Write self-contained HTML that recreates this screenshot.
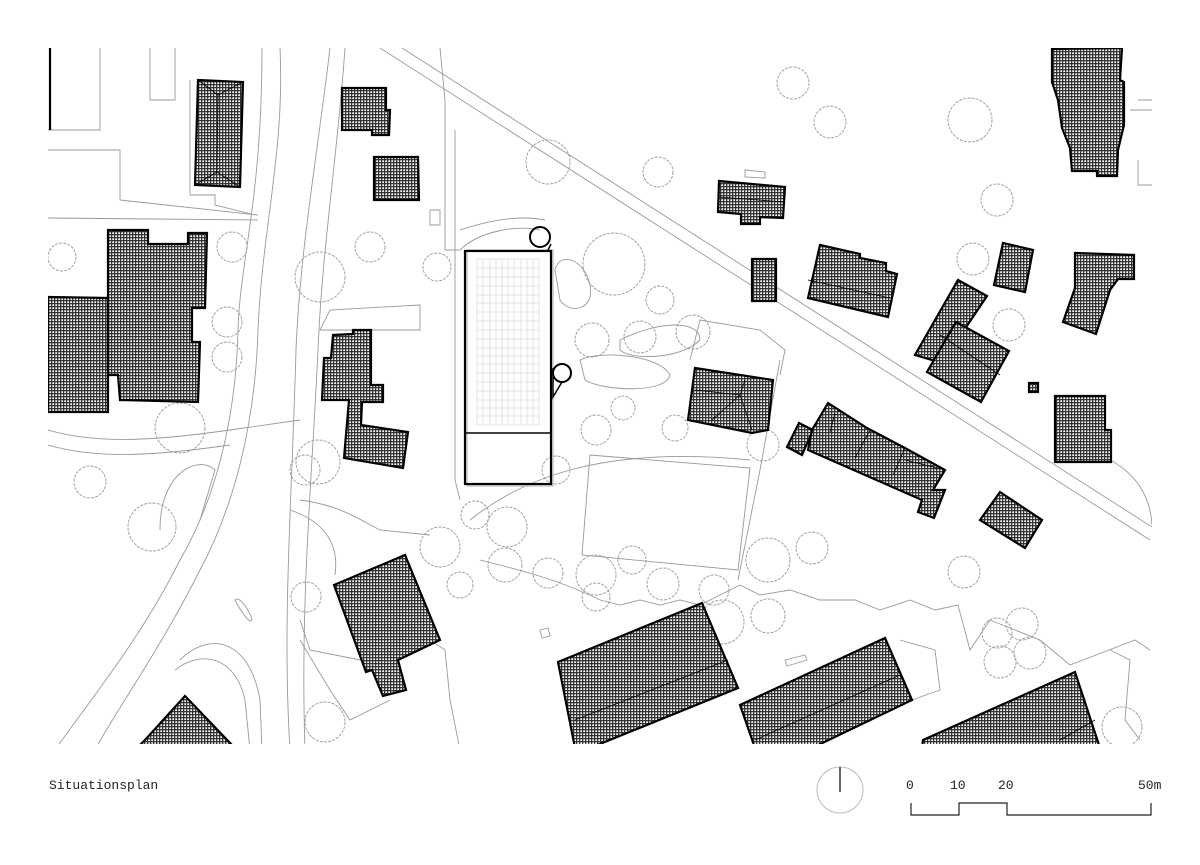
<!DOCTYPE html>
<html><head><meta charset="utf-8"><style>
html,body{margin:0;padding:0;background:#fff;}
svg{display:block}
text{font-family:"Liberation Mono",monospace;font-size:13px;fill:#222}
</style></head><body>
<svg width="1200" height="865" viewBox="0 0 1200 865" xmlns="http://www.w3.org/2000/svg">
<defs>
<pattern id="h" width="3" height="3" patternUnits="userSpaceOnUse">
<rect width="3" height="3" fill="#fff"/>
<rect x="0" y="0" width="3" height="1.3" fill="#333"/>
<rect x="0" y="0" width="1.3" height="3" fill="#333"/>
</pattern>
<clipPath id="c"><rect x="48" y="48" width="1104" height="696"/></clipPath>
</defs>
<g clip-path="url(#c)">
<g fill="none" stroke="#999" stroke-width="0.9">
<path d="M262,48 C262,200 240,260 238,330 C236,420 215,500 180,560 C140,640 90,700 55,750"/>
<path d="M280,48 C285,150 262,230 258,330 C255,430 232,510 200,570 C160,650 110,720 95,750"/>
<path d="M330,48 C318,150 300,250 296,350 C292,500 282,620 290,750"/>
<path d="M345,48 C338,150 322,250 318,350 C312,480 300,600 305,750"/>
<path d="M380,48 L1150,540"/>
<path d="M402,48 L1152,527"/>
<path d="M48,430 C100,445 160,440 230,430 L300,420"/>
<path d="M48,445 C100,460 160,455 230,445"/>
<path d="M160,530 C160,470 200,455 215,470 L200,520"/>
<path d="M48,130 L100,130 L100,48 M48,150 L120,150 L120,200 L258,215 M150,48 L150,100 L175,100 L175,48 M190,80 L190,195 L215,195 L215,205 L255,215"/>
<path d="M48,218 L258,220 M108,230 L108,300"/>
<path d="M320,330 L420,330 L420,305 L330,310 Z"/>
<path d="M430,210 L440,210 L440,225 L430,225 Z"/>
<path d="M440,48 L445,100 L445,250 L460,250 M455,130 L455,480 L460,500"/>
<path d="M460,250 C480,230 520,225 540,230 M460,230 C490,220 520,215 545,220"/>
<path d="M555,270 C560,250 585,260 590,285 C595,310 570,315 560,300 Z"/>
<path d="M580,360 C600,350 660,355 670,375 C665,395 600,390 585,380 Z"/>
<path d="M590,455 L750,468 L738,570 L582,555 Z"/>
<path d="M620,340 C660,320 700,320 700,340 C680,360 630,360 620,350 Z"/>
<path d="M470,520 C520,480 600,445 750,460 M780,360 L760,470 L738,580"/>
<path d="M480,560 C520,570 560,580 600,600 L620,605 L640,600 L660,605 L680,600 L700,605 L740,585 L760,595 L790,590 L820,600 L855,600 L880,610 L910,600 L935,610 L958,605 L970,650 L990,620 L1040,640 L1070,665 L1135,640 L1150,650"/>
<path d="M290,510 C320,520 340,540 335,575 M300,500 C340,505 360,520 380,530 L430,535"/>
<path d="M180,660 C210,630 250,640 260,700 L262,750 M175,670 C200,650 235,655 245,700 L250,750"/>
<path d="M235,600 C240,595 250,612 252,620 C250,625 240,610 235,600 Z"/>
<path d="M300,640 L330,690 L350,720 L390,700 M300,620 L310,650 L360,660 L430,640 L445,650 L450,700 L460,750"/>
<path d="M1110,650 L1130,660 L1125,720 L1140,740 M1138,100 L1152,100 M1138,160 L1138,185 L1152,185 M1130,110 L1152,110"/>
<path d="M690,360 L700,320 L760,330 L785,350 L780,375 M540,630 L548,628 L550,636 L542,638 Z M785,660 L805,655 L807,660 L787,666 Z"/>
<path d="M900,640 L935,650 L940,690 L912,700 M745,170 L765,172 L765,178 L745,177 Z"/>
<path d="M1100,455 C1135,470 1150,495 1152,525"/>
</g>
<g fill="none" stroke="#999" stroke-width="0.9" stroke-dasharray="3 1.2">
<circle cx="62" cy="257" r="14"/><circle cx="232" cy="247" r="15"/><circle cx="227" cy="322" r="15"/><circle cx="227" cy="357" r="15"/>
<circle cx="180" cy="428" r="25"/><circle cx="90" cy="482" r="16"/><circle cx="152" cy="527" r="24"/><circle cx="320" cy="277" r="25"/>
<circle cx="370" cy="247" r="15"/><circle cx="437" cy="267" r="14"/><circle cx="318" cy="462" r="22"/><circle cx="306" cy="597" r="15"/>
<circle cx="325" cy="722" r="20"/><circle cx="475" cy="515" r="14"/><circle cx="440" cy="547" r="20"/><circle cx="548" cy="162" r="22"/>
<circle cx="658" cy="172" r="15"/><circle cx="793" cy="83" r="16"/><circle cx="830" cy="122" r="16"/><circle cx="970" cy="120" r="22"/>
<circle cx="997" cy="200" r="16"/><circle cx="973" cy="259" r="16"/><circle cx="1009" cy="325" r="16"/><circle cx="614" cy="264" r="31"/>
<circle cx="592" cy="340" r="17"/><circle cx="640" cy="337" r="16"/><circle cx="693" cy="332" r="17"/><circle cx="660" cy="300" r="14"/>
<circle cx="596" cy="430" r="15"/><circle cx="623" cy="408" r="12"/><circle cx="675" cy="428" r="13"/><circle cx="763" cy="445" r="16"/>
<circle cx="556" cy="470" r="14"/><circle cx="507" cy="527" r="20"/><circle cx="505" cy="565" r="17"/><circle cx="548" cy="573" r="15"/>
<circle cx="596" cy="575" r="20"/><circle cx="632" cy="560" r="14"/><circle cx="596" cy="597" r="14"/><circle cx="663" cy="584" r="16"/>
<circle cx="714" cy="590" r="15"/><circle cx="722" cy="622" r="22"/><circle cx="768" cy="616" r="17"/><circle cx="768" cy="560" r="22"/>
<circle cx="812" cy="548" r="16"/><circle cx="964" cy="572" r="16"/><circle cx="997" cy="633" r="15"/><circle cx="1022" cy="624" r="16"/>
<circle cx="1030" cy="653" r="16"/><circle cx="1000" cy="662" r="16"/><circle cx="1122" cy="727" r="20"/><circle cx="460" cy="585" r="13"/>
<circle cx="305" cy="470" r="15"/>
</g>
<g fill="url(#h)" stroke="#000" stroke-width="2.2" stroke-linejoin="miter">
<path d="M50,48 L50,130" fill="none"/>
<polygon points="198,80 243,82 240,187 195,185"/>
<polygon points="108,230 148,230 148,244 188,244 188,233 207,233 205,308 192,308 192,342 200,342 198,402 120,400 118,375 108,375"/>
<polygon points="48,297 108,298 108,412 48,412"/>
<polygon points="342,88 386,88 386,110 390,110 389,135 372,135 372,130 342,130"/>
<polygon points="374,157 418,157 419,200 374,200"/>
<polygon points="333,335 353,334 353,330 371,330 371,385 383,385 383,402 362,402 361,425 408,432 403,468 344,458 349,400 322,400 324,358 331,358"/>
<polygon points="334,585 405,555 440,640 398,660 406,690 383,696 372,670 366,672"/>
<polygon points="145,740 185,696 232,745 140,745"/>
<polygon points="1052,49 1122,48 1120,80 1124,82 1124,125 1118,150 1117,176 1097,176 1097,171 1072,171 1070,148 1062,128 1058,100 1052,82"/>
<polygon points="719,181 785,187 783,218 760,217 760,224 741,224 741,214 718,212"/>
<polygon points="752,259 776,259 776,301 752,301"/>
<polygon points="820,245 860,254 860,258 886,263 886,271 897,274 888,317 808,298"/>
<polygon points="1003,243 1033,250 1025,292 994,285"/>
<polygon points="1075,253 1134,255 1134,279 1118,279 1110,290 1096,334 1063,322 1075,288"/>
<polygon points="958,280 987,296 942,363 915,355"/>
<polygon points="956,322 1009,351 981,402 927,372"/>
<polygon points="1029,383 1038,383 1038,392 1029,392"/>
<polygon points="1055,396 1105,396 1105,430 1111,430 1111,462 1055,462"/>
<polygon points="695,368 773,380 768,430 752,433 688,420"/>
<polygon points="799,423 813,430 802,455 787,447"/>
<polygon points="828,403 867,428 905,448 945,470 933,490 945,490 934,518 918,512 922,500 808,450 812,430"/>
<polygon points="1000,492 1042,520 1025,548 980,520"/>
<polygon points="558,662 702,603 738,688 590,748 575,748"/>
<polygon points="740,705 885,638 912,700 812,748 755,748"/>
<polygon points="923,740 1075,672 1100,748 922,748"/>
</g>
<g fill="none" stroke="#000" stroke-width="0.8">
<path d="M198,80 L218,95 L243,82 M218,95 L217,172 L195,185 M217,172 L240,187"/>
<path d="M719,197 L784,202 M808,280 L890,298 M940,335 L1000,375 M375,178 L418,178"/>
<path d="M575,720 L728,660 M755,740 L900,675 M1060,740 L1095,720 M835,413 L830,432 M870,430 L855,458 M905,448 L893,475 M945,470 L905,460"/>
<path d="M695,390 L740,395 L745,380 M740,395 L712,420 M740,395 L752,430"/>
</g>
<g fill="none">
<rect x="467" y="250" width="86" height="236" stroke="#aaa" stroke-width="1"/>
<rect x="465" y="251" width="86" height="233" stroke="#000" stroke-width="2.2"/>
<line x1="465" y1="433" x2="551" y2="433" stroke="#000" stroke-width="1.5"/>
<g stroke="#ddd" stroke-width="0.8">
<rect x="477" y="259" width="62" height="166"/>
<path d="M508,259 V425 M477,303 H539 M477,373 H539 M483,259 V425 M490,259 V425 M496,259 V425 M502,259 V425 M514,259 V425 M521,259 V425 M527,259 V425 M533,259 V425 M477,268 H539 M477,277 H539 M477,286 H539 M477,295 H539 M477,312 H539 M477,321 H539 M477,330 H539 M477,339 H539 M477,348 H539 M477,356 H539 M477,364 H539 M477,382 H539 M477,391 H539 M477,400 H539 M477,408 H539 M477,416 H539"/>
</g>
<circle cx="540" cy="237" r="10" stroke="#000" stroke-width="2"/>
<path d="M548,250 L551,244" stroke="#000" stroke-width="1.5"/>
<circle cx="562" cy="373" r="9" stroke="#000" stroke-width="2"/>
<path d="M553,368 L553,397 L562,382" stroke="#000" stroke-width="1.5"/>
</g>
</g>
<text x="49" y="789">Situationsplan</text>
<circle cx="840" cy="790" r="23" fill="none" stroke="#bbb" stroke-width="1"/>
<line x1="840" y1="767" x2="840" y2="792" stroke="#000" stroke-width="1.2"/>
<text x="906" y="789">0</text>
<text x="950" y="789">10</text>
<text x="998" y="789">20</text>
<text x="1138" y="789">50m</text>
<path d="M911,803 V815 H959 V803 H1007 V815 H1151 V803" fill="none" stroke="#222" stroke-width="1.2"/>
</svg>
</body></html>
